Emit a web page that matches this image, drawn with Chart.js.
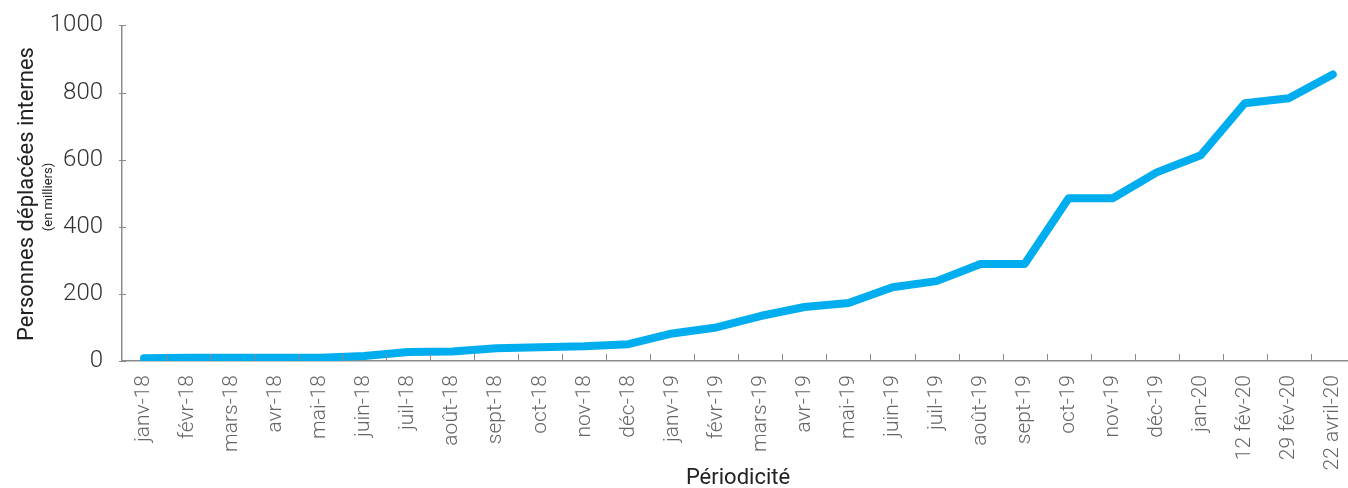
<!DOCTYPE html>
<html>
<head>
<meta charset="utf-8">
<script src="https://cdn.jsdelivr.net/npm/chart.js@4.4.1/dist/chart.umd.min.js"></script>
<style>
  html, body { margin: 0; padding: 0; background: #fff; overflow: hidden; }
  #wrap { width: 1364px; height: 488px; }
</style>
</head>
<body>
<div id="wrap"><canvas id="chart"></canvas></div>
<script>
const categories = [
  "janv-18", "févr-18", "mars-18", "avr-18", "mai-18", "juin-18", "juil-18",
  "août-18", "sept-18", "oct-18", "nov-18", "déc-18", "janv-19", "févr-19",
  "mars-19", "avr-19", "mai-19", "juin-19", "juil-19", "août-19", "sept-19",
  "oct-19", "nov-19", "déc-19", "jan-20", "12 fév-20", "29 fév-20", "22 avril-20"
];
const displaced = [
  8, 10, 10, 10, 10, 15, 27, 28, 38, 41, 44, 50, 82, 100,
  134, 161, 173, 220, 238, 289, 289, 485, 485, 562, 613, 768, 783, 854
];
const yTicks = [0, 200, 400, 600, 800, 1000];

const yTitle = "Personnes déplacées internes";
const ySubtitle = "(en milliers)";
const xTitle = "Périodicité";

const FONT = "Roboto, 'Noto Sans', sans-serif";
const AXIS = "#8a8a8a";

// ticks drawn on the inner side of both axes, plus the titles
const decorations = {
  id: "decorations",
  afterDraw(chart) {
    const ctx = chart.ctx;
    const x = chart.scales.x;
    const y = chart.scales.y;
    const area = chart.chartArea;
    ctx.save();
    ctx.strokeStyle = AXIS;
    ctx.lineWidth = 1;
    const step = x.getPixelForValue(1) - x.getPixelForValue(0);
    for (let i = 1; i <= categories.length; i++) {
      const px = Math.round(x.getPixelForValue(i) - step / 2) + 0.5;
      ctx.beginPath();
      ctx.moveTo(px, area.bottom);
      ctx.lineTo(px, area.bottom - 7);
      ctx.stroke();
    }
    yTicks.forEach((v) => {
      const py = Math.round(y.getPixelForValue(v)) + 0.5;
      ctx.beginPath();
      ctx.moveTo(area.left - 3, py);
      ctx.lineTo(area.left + 4, py);
      ctx.stroke();
    });

    ctx.fillStyle = "#222";
    ctx.textAlign = "center";
    ctx.textBaseline = "middle";
    ctx.font = "400 22px " + FONT;
    ctx.save();
    ctx.translate(27, 194);
    ctx.rotate(-Math.PI / 2);
    ctx.fillText(yTitle, 0, 0);
    ctx.restore();
    ctx.font = "400 13px " + FONT;
    ctx.save();
    ctx.translate(49, 197);
    ctx.rotate(-Math.PI / 2);
    ctx.fillText(ySubtitle, 0, 0);
    ctx.restore();
    ctx.font = "400 22px " + FONT;
    ctx.fillText(xTitle, 738, 478);
    ctx.restore();
  }
};

new Chart(document.getElementById("chart"), {
  type: "line",
  data: {
    labels: categories,
    datasets: [
      {
        data: displaced,
        borderColor: "#00aeef",
        borderWidth: 8,
        borderCapStyle: "round",
        borderJoinStyle: "round",
        pointRadius: 0,
        tension: 0,
        fill: false
      }
    ]
  },
  options: {
    responsive: true,
    maintainAspectRatio: false,
    animation: false,
    layout: { padding: { top: 2, right: 0, left: 0, bottom: 0 } },
    plugins: {
      legend: { display: false },
      tooltip: { enabled: false }
    },
    scales: {
      x: {
        offset: true,
        afterFit: (s) => { s.height = 127; },
        grid: { display: false, offset: true },
        border: { display: true, color: AXIS, width: 1.5 },
        ticks: {
          autoSkip: false,
          maxRotation: 90,
          minRotation: 90,
          padding: 6,
          color: "#666",
          font: { family: FONT, size: 21, weight: "300" }
        }
      },
      y: {
        min: 0,
        max: 1000,
        afterFit: (s) => { s.width = 122; },
        afterBuildTicks: (s) => { s.ticks = yTicks.map((v) => ({ value: v })); },
        grid: { display: false },
        border: { display: true, color: AXIS, width: 1.5 },
        ticks: {
          padding: 11,
          color: "#333",
          callback: (v) => String(v),
          font: { family: FONT, size: 24, weight: "300" }
        }
      }
    }
  },
  plugins: [decorations]
});
</script>
</body>
</html>
